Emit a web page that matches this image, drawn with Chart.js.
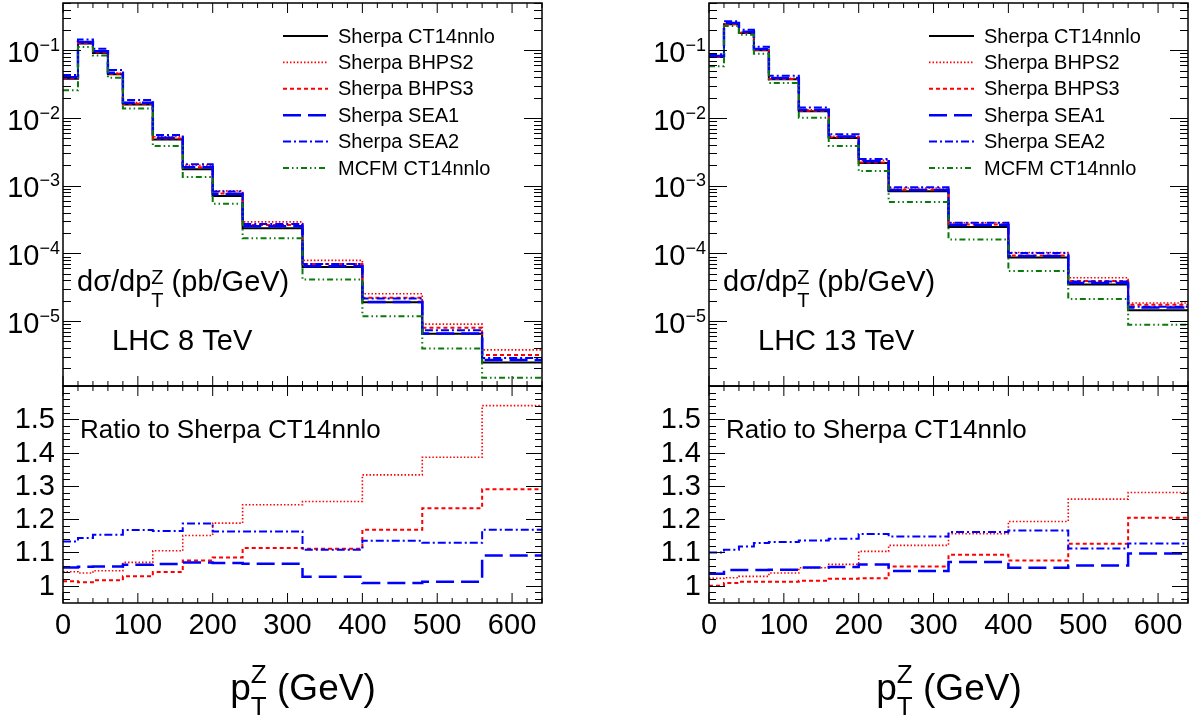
<!DOCTYPE html>
<html>
<head>
<meta charset="utf-8">
<script src="https://cdn.jsdelivr.net/npm/chart.js@4.4.1/dist/chart.umd.min.js"></script>
<style>
  html, body { margin:0; padding:0; background:#fff; }
  #wrap { position:relative; width:1189px; height:719px; overflow:hidden; background:#fff; }
  canvas { position:absolute; left:0; top:0; }
</style>
</head>
<body>
<div id="wrap">
  <canvas id="c8top" width="1189" height="719"></canvas>
  <canvas id="c8rat" width="1189" height="719"></canvas>
  <canvas id="c13top" width="1189" height="719"></canvas>
  <canvas id="c13rat" width="1189" height="719"></canvas>
</div>
<script>
// ---------------- DATA ----------------
const EDGES = [0, 20, 40, 60, 80, 120, 160, 200, 240, 320, 400, 480, 560, 640];
const X_TICK_LABELS = [0, 100, 200, 300, 400, 500, 600];
const LOG_LABEL_POWERS = [-1, -2, -3, -4, -5];
const RATIO_TICK_LABELS = [1, 1.1, 1.2, 1.3, 1.4, 1.5];
const SERIES_NAMES = ['Sherpa CT14nnlo', 'Sherpa BHPS2', 'Sherpa BHPS3', 'Sherpa SEA1', 'Sherpa SEA2', 'MCFM CT14nnlo'];

// LHC 8 TeV, dsigma/dpT (pb/GeV)
const S8_CT14  = [0.0380, 0.126, 0.0913, 0.0442, 0.0158, 0.00480, 0.00175, 0.000705, 0.000235, 6.30e-5, 1.90e-5, 6.50e-6, 2.44e-6];
const S8_BHPS2 = [0.0396, 0.1308, 0.0954, 0.0462, 0.0169, 0.00530, 0.00201, 0.000838, 0.000292, 7.89e-5, 2.53e-5, 9.01e-6, 3.76e-6];
const S8_BHPS3 = [0.0385, 0.1273, 0.0928, 0.0449, 0.01624, 0.00500, 0.00188, 0.000765, 0.000262, 7.00e-5, 2.22e-5, 8.01e-6, 3.15e-6];
const S8_SEA1  = [0.0401, 0.1332, 0.0966, 0.0468, 0.0168, 0.00511, 0.00187, 0.000753, 0.000251, 6.47e-5, 1.92e-5, 6.58e-6, 2.66e-6];
const S8_SEA2  = [0.0431, 0.1440, 0.1053, 0.0510, 0.01844, 0.00559, 0.00208, 0.000820, 0.000273, 6.98e-5, 2.16e-5, 7.34e-6, 2.85e-6];
const M8_CT14  = [0.0257, 0.112, 0.084, 0.0395, 0.0138, 0.00386, 0.00135, 0.000543, 0.000168, 4.10e-5, 1.18e-5, 3.93e-6, 1.46e-6];
// ratios to Sherpa CT14nnlo, 8 TeV
const R8_BHPS2 = [1.042, 1.038, 1.045, 1.045, 1.070, 1.105, 1.151, 1.188, 1.243, 1.253, 1.333, 1.386, 1.541];
const R8_BHPS3 = [1.013, 1.010, 1.016, 1.016, 1.028, 1.041, 1.076, 1.085, 1.113, 1.111, 1.168, 1.233, 1.290];
const R8_SEA1  = [1.055, 1.057, 1.058, 1.058, 1.063, 1.065, 1.070, 1.068, 1.066, 1.027, 1.008, 1.012, 1.091];
const R8_SEA2  = [1.133, 1.143, 1.153, 1.153, 1.167, 1.164, 1.187, 1.163, 1.163, 1.108, 1.135, 1.129, 1.168];

// LHC 13 TeV
const S13_CT14  = [0.0796, 0.242, 0.180, 0.100, 0.0373, 0.01256, 0.00507, 0.00216, 0.000826, 0.000245, 8.67e-5, 3.46e-5, 1.445e-5];
const S13_BHPS2 = [0.0814, 0.2478, 0.185, 0.1028, 0.0387, 0.01324, 0.00539, 0.00238, 0.000926, 0.000283, 1.034e-4, 4.36e-5, 1.85e-5];
const S13_BHPS3 = [0.0796, 0.2439, 0.1822, 0.1012, 0.03775, 0.01275, 0.00518, 0.00221, 0.000874, 0.000268, 9.33e-5, 3.90e-5, 1.74e-5];
const S13_SEA1  = [0.0825, 0.2534, 0.1885, 0.1047, 0.0391, 0.01325, 0.00535, 0.00230, 0.000862, 0.000262, 9.14e-5, 3.67e-5, 1.585e-5];
const S13_SEA2  = [0.0876, 0.2681, 0.2012, 0.1128, 0.0422, 0.01427, 0.00578, 0.00249, 0.000948, 0.000284, 1.011e-4, 3.85e-5, 1.63e-5];
const M13_CT14  = [0.0580, 0.228, 0.170, 0.089, 0.0329, 0.0101, 0.00386, 0.00165, 0.000576, 0.000161, 5.50e-5, 2.12e-5, 8.87e-6];
const R13_BHPS2 = [1.022, 1.024, 1.028, 1.028, 1.038, 1.054, 1.064, 1.103, 1.121, 1.156, 1.193, 1.260, 1.280];
const R13_BHPS3 = [1.000, 1.008, 1.012, 1.012, 1.012, 1.015, 1.021, 1.022, 1.058, 1.093, 1.076, 1.126, 1.204];
const R13_SEA1  = [1.036, 1.047, 1.047, 1.047, 1.048, 1.055, 1.056, 1.064, 1.044, 1.071, 1.054, 1.061, 1.097];
const R13_SEA2  = [1.100, 1.108, 1.118, 1.128, 1.131, 1.136, 1.141, 1.155, 1.148, 1.161, 1.166, 1.112, 1.127];

// ---------------- STYLE ----------------
const FONT = "'Liberation Sans', Arial, Helvetica, sans-serif";
const STYLES = [
  { color:'#000000', dash:[], width:2 },
  { color:'#ff0000', dash:[1.5,2], width:1.6 },
  { color:'#ff0000', dash:[4,3], width:2 },
  { color:'#0000ff', dash:[18,7], width:2.5 },
  { color:'#0000ff', dash:[8,3,2,3], width:2 },
  { color:'#0a7a0a', dash:[6,3,1.5,3,1.5,3], width:2 }
];
const W = 1189, H = 719;
const PANELS = [
  { left:63, right:542 },
  { left:709, right:1188 }
];
const TOP_Y = { top:3, bottom:386 };
const RAT_Y = { top:386, bottom:603 };

function hist(vals) {
  const pts = vals.map((v, i) => ({ x: EDGES[i], y: v }));
  pts.push({ x: EDGES[EDGES.length - 1], y: vals[vals.length - 1] });
  return pts;
}
function ds(vals, si, order) {
  const s = STYLES[si];
  return {
    label: SERIES_NAMES[si], data: hist(vals),
    borderColor: s.color, borderDash: s.dash, borderWidth: s.width,
    stepped: true, pointRadius: 0, fill: false, order: order,
    borderCapStyle: 'butt', borderJoinStyle: 'miter'
  };
}

function drawSup(ctx, base, sup, x, y, bigSize, supSize, supRaise, align) {
  ctx.font = bigSize + 'px ' + FONT;
  const w1 = ctx.measureText(base).width;
  ctx.font = supSize + 'px ' + FONT;
  const w2 = ctx.measureText(sup).width;
  let x0 = x;
  if (align === 'right') x0 = x - w1 - w2;
  ctx.textAlign = 'left';
  ctx.textBaseline = 'alphabetic';
  ctx.font = bigSize + 'px ' + FONT;
  ctx.fillText(base, x0, y);
  ctx.font = supSize + 'px ' + FONT;
  ctx.fillText(sup, x0 + w1, y - supRaise);
}

// draws "pre" + p_T^Z-like construct + "post"
function drawSubSup(ctx, pre, sup, sub, post, x, y, size, ssize, raise, lower, align) {
  ctx.textBaseline = 'alphabetic';
  ctx.font = size + 'px ' + FONT;
  const w1 = ctx.measureText(pre).width;
  const w3 = ctx.measureText(post).width;
  ctx.font = ssize + 'px ' + FONT;
  const w2 = Math.max(ctx.measureText(sup).width, ctx.measureText(sub).width);
  let x0 = x;
  if (align === 'center') x0 = x - (w1 + w2 + w3) / 2;
  ctx.textAlign = 'left';
  ctx.font = size + 'px ' + FONT;
  ctx.fillText(pre, x0, y);
  ctx.fillText(post, x0 + w1 + w2, y);
  ctx.font = ssize + 'px ' + FONT;
  ctx.fillText(sup, x0 + w1, y - raise);
  ctx.fillText(sub, x0 + w1, y + lower);
}

function xTicks(ctx, x, a, majLen, minLen) {
  for (let v = 0; v <= 640; v += 20) {
    const px = x.getPixelForValue(v);
    const L = (v % 100 === 0) ? majLen : minLen;
    ctx.moveTo(px, a.bottom); ctx.lineTo(px, a.bottom - L);
    ctx.moveTo(px, a.top); ctx.lineTo(px, a.top + L);
  }
}

const topPlugin = {
  id: 'topDecor',
  afterDraw(chart, args, opts) {
    const { ctx, chartArea: a, scales: { x, y } } = chart;
    ctx.save();
    ctx.strokeStyle = '#000'; ctx.fillStyle = '#000'; ctx.lineWidth = 1;
    ctx.setLineDash([]);
    ctx.beginPath();
    xTicks(ctx, x, a, 10, 5);
    for (let p = -7; p <= 0; p++) {
      for (let m = 1; m <= 9; m++) {
        const val = m * Math.pow(10, p);
        if (val < y.min || val > y.max) continue;
        const py = Math.round(y.getPixelForValue(val)) + 0.5;
        const L = (m === 1) ? 18 : 8;
        ctx.moveTo(a.left, py); ctx.lineTo(a.left + L, py);
        ctx.moveTo(a.right, py); ctx.lineTo(a.right - L, py);
      }
    }
    ctx.stroke();
    ctx.lineWidth = 1.5;
    ctx.strokeRect(a.left, a.top, a.right - a.left, a.bottom - a.top);
    // y labels
    LOG_LABEL_POWERS.forEach(p => {
      const py = y.getPixelForValue(Math.pow(10, p));
      drawSup(ctx, '10', '\u2212' + Math.abs(p), a.left - 3, py + 11.5, 29, 18, 11, 'right');
    });
    // legend
    const lx = a.left + 220, ly0 = 36, dy = 26.4;
    chart.data.datasets.slice().sort((d1, d2) => SERIES_NAMES.indexOf(d1.label) - SERIES_NAMES.indexOf(d2.label)).forEach((d, i) => {
      const yy = ly0 + i * dy;
      ctx.save();
      ctx.strokeStyle = d.borderColor; ctx.lineWidth = d.borderWidth;
      ctx.setLineDash(d.borderDash);
      ctx.beginPath(); ctx.moveTo(lx, yy); ctx.lineTo(lx + 45, yy); ctx.stroke();
      ctx.restore();
      ctx.font = '20px ' + FONT; ctx.textAlign = 'left'; ctx.textBaseline = 'middle';
      ctx.fillText(d.label, lx + 55, yy + 1);
    });
    // axis title inside and energy label
    drawSubSup(ctx, 'd\u03c3/dp', 'Z', 'T', ' (pb/GeV)', a.left + 14, 291, 29, 20, 7, 16, 'left');
    ctx.font = '29px ' + FONT; ctx.textAlign = 'left'; ctx.textBaseline = 'alphabetic';
    ctx.fillText(opts.energy, a.left + 49, 350);
    ctx.restore();
  }
};

const ratioPlugin = {
  id: 'ratioDecor',
  afterDraw(chart, args, opts) {
    const { ctx, chartArea: a, scales: { x, y } } = chart;
    ctx.save();
    ctx.strokeStyle = '#000'; ctx.fillStyle = '#000'; ctx.lineWidth = 1;
    ctx.setLineDash([]);
    ctx.beginPath();
    xTicks(ctx, x, a, 10, 5);
    for (let k = 47; k <= 80; k++) {
      const val = k / 50;
      if (val < y.min - 1e-9 || val > y.max + 1e-9) continue;
      const py = Math.round(y.getPixelForValue(val)) + 0.5;
      const L = (k % 5 === 0) ? 16 : 7;
      ctx.moveTo(a.left, py); ctx.lineTo(a.left + L, py);
      ctx.moveTo(a.right, py); ctx.lineTo(a.right - L, py);
    }
    ctx.stroke();
    ctx.lineWidth = 1.5;
    ctx.strokeRect(a.left, a.top, a.right - a.left, a.bottom - a.top);
    ctx.font = '29px ' + FONT;
    ctx.textAlign = 'right'; ctx.textBaseline = 'middle';
    RATIO_TICK_LABELS.forEach(v => {
      ctx.fillText(String(v), a.left - 8, y.getPixelForValue(v) + 1);
    });
    ctx.textAlign = 'center'; ctx.textBaseline = 'alphabetic';
    X_TICK_LABELS.forEach(v => {
      ctx.fillText(String(v), x.getPixelForValue(v), 634);
    });
    ctx.font = '26px ' + FONT; ctx.textAlign = 'left';
    ctx.fillText('Ratio to Sherpa CT14nnlo', a.left + 17, 438);
    drawSubSup(ctx, 'p', 'Z', 'T', ' (GeV)', a.left + 240, 700, 37, 26, 17, 15, 'center');
    ctx.restore();
  }
};

function makeTop(id, panel, sets, energy) {
  return new Chart(document.getElementById(id), {
    type: 'line',
    data: { datasets: [
      ds(sets[0], 0, 5), ds(sets[1], 1, 4), ds(sets[2], 2, 3),
      ds(sets[3], 3, 2), ds(sets[4], 4, 1), ds(sets[5], 5, 0)
    ] },
    options: {
      responsive: false, animation: false, events: [],
      layout: { padding: { left: panel.left, right: W - panel.right, top: TOP_Y.top, bottom: H - TOP_Y.bottom } },
      scales: {
        x: { type: 'linear', min: 0, max: 640, display: false },
        y: { type: 'logarithmic', min: 1.1e-6, max: 0.5, display: false }
      },
      plugins: { legend: { display: false }, tooltip: { enabled: false }, topDecor: { energy: energy } }
    },
    plugins: [topPlugin]
  });
}
function makeRatio(id, panel, sets) {
  return new Chart(document.getElementById(id), {
    type: 'line',
    data: { datasets: [
      ds(sets[0], 1, 3), ds(sets[1], 2, 2), ds(sets[2], 3, 1), ds(sets[3], 4, 0)
    ] },
    options: {
      responsive: false, animation: false, events: [],
      layout: { padding: { left: panel.left, right: W - panel.right, top: RAT_Y.top, bottom: H - RAT_Y.bottom } },
      scales: {
        x: { type: 'linear', min: 0, max: 640, display: false },
        y: { type: 'linear', min: 0.948, max: 1.6, display: false }
      },
      plugins: { legend: { display: false }, tooltip: { enabled: false } }
    },
    plugins: [ratioPlugin]
  });
}

makeTop('c8top', PANELS[0], [S8_CT14, S8_BHPS2, S8_BHPS3, S8_SEA1, S8_SEA2, M8_CT14], 'LHC 8 TeV');
makeRatio('c8rat', PANELS[0], [R8_BHPS2, R8_BHPS3, R8_SEA1, R8_SEA2]);
makeTop('c13top', PANELS[1], [S13_CT14, S13_BHPS2, S13_BHPS3, S13_SEA1, S13_SEA2, M13_CT14], 'LHC 13 TeV');
makeRatio('c13rat', PANELS[1], [R13_BHPS2, R13_BHPS3, R13_SEA1, R13_SEA2]);
</script>
</body>
</html>
